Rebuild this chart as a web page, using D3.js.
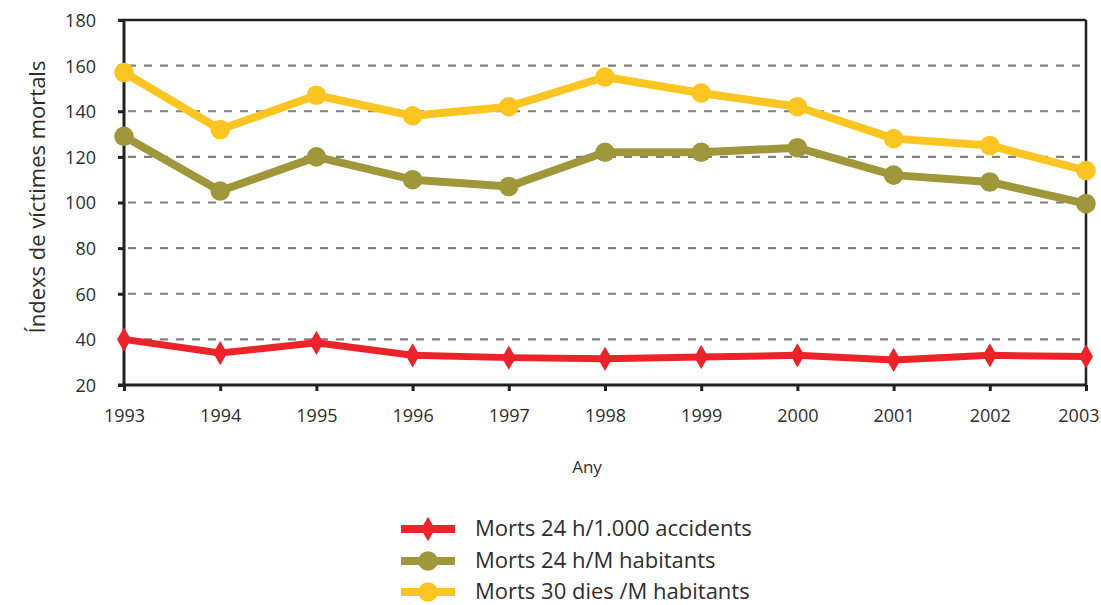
<!DOCTYPE html>
<html><head><meta charset="utf-8">
<script src="https://cdn.jsdelivr.net/npm/d3@7"></script>
<style>body{margin:0;background:#fff}svg{display:block}text{font-family:"Open Sans",sans-serif;fill:#2e2e2e}</style>
</head><body>
<svg id="c" width="1101" height="605"></svg>
<script>
const years = [1993,1994,1995,1996,1997,1998,1999,2000,2001,2002,2003];
const yTicks = [20,40,60,80,100,120,140,160,180];
const seriesNames = ["Morts 24 h/1.000 accidents","Morts 24 h/M habitants","Morts 30 dies /M habitants"];
const morts24Acc = [40,34,38.5,33,32,31.5,32.3,33,31,33,32.5];
const morts24Hab = [129,105,120,110,107,122,122,124,112,109,99.5];
const morts30Hab = [157,132,147,138,142,155,148,142,128,125,114];
const colors = ["#ee2229","#a0963a","#fdc521"];
const markers = ["diamond","circle","circle"];

const svg = d3.select("#c");
const L=124,R=1086,T=20,B=385;
const x = d3.scalePoint().domain(years).range([L,R]);
const y = d3.scaleLinear().domain([20,180]).range([B,T]);

// grid
svg.append("g").selectAll("line").data(yTicks.filter(v=>v>20&&v<180)).join("line")
  .attr("x1",L+4).attr("x2",R-2).attr("y1",d=>y(d)).attr("y2",d=>y(d))
  .attr("stroke","#808080").attr("stroke-width",2.2).attr("stroke-dasharray","8,8");

// frame top/right
svg.append("line").attr("x1",L-6).attr("x2",R).attr("y1",T).attr("y2",T).attr("stroke","#222").attr("stroke-width",2.5);
svg.append("line").attr("x1",R).attr("x2",R).attr("y1",T).attr("y2",B).attr("stroke","#222").attr("stroke-width",2.5);

// axes
const ya = svg.append("g").attr("transform",`translate(${L},0)`)
  .call(d3.axisLeft(y).tickValues(yTicks).tickSize(6).tickPadding(22));
const xa = svg.append("g").attr("transform",`translate(0,${B})`)
  .call(d3.axisBottom(x).tickSize(6).tickPadding(20).tickFormat(d3.format("d")));
[ya,xa].forEach(g=>{
  g.select(".domain").attr("stroke","#222").attr("stroke-width",3);
  g.selectAll(".tick line").attr("stroke","#222").attr("stroke-width",3);
  g.selectAll(".tick text").style("font-size","18px").attr("fill","#2e2e2e");
});
ya.selectAll(".tick text").attr("dy","0.36em");
xa.selectAll(".tick text").attr("dy","0.62em");
xa.selectAll(".tick").filter(d=>d===years[years.length-1]).select("text").attr("text-anchor","end").attr("x",13);
ya.select(".domain").attr("d",`M0,${B}V${T}`);
xa.select(".domain").attr("d",`M${L-6},0H${R}`);

// titles
svg.append("text").attr("x",587).attr("y",473).attr("text-anchor","middle").style("font-size","17px").text("Any");
svg.append("text").attr("transform","translate(45,197) rotate(-90)").attr("text-anchor","middle").style("font-size","22px").text("Índexs de víctimes mortals");

const data = [morts24Acc,morts24Hab,morts30Hab];
const line = d3.line().x((d,i)=>x(years[i])).y(d=>y(d));
const sym = {diamond:d3.symbol().type(d3.symbolDiamond).size(170), circle:d3.symbol().type(d3.symbolCircle).size(300)};
data.forEach((vals,k)=>{
  const g = svg.append("g");
  g.append("path").attr("d",line(vals)).attr("fill","none").attr("stroke",colors[k]).attr("stroke-width",k===0?7:8).attr("stroke-linejoin","round");
  g.selectAll("path.m").data(vals).join("path").attr("class","m")
    .attr("transform",(d,i)=>`translate(${x(years[i])},${y(d)})`)
    .attr("d",sym[markers[k]]()).attr("fill",colors[k]);
});

// legend
const legY=[529,561,592];
seriesNames.forEach((n,k)=>{
  const g = svg.append("g");
  g.append("line").attr("x1",401).attr("x2",455).attr("y1",legY[k]).attr("y2",legY[k]).attr("stroke",colors[k]).attr("stroke-width",8);
  g.append("path").attr("transform",`translate(428,${legY[k]})`).attr("d",sym[markers[k]]()).attr("fill",colors[k]);
  g.append("text").attr("x",475).attr("y",legY[k]+7).style("font-size","22px").text(n);
});
</script>
</body></html>
